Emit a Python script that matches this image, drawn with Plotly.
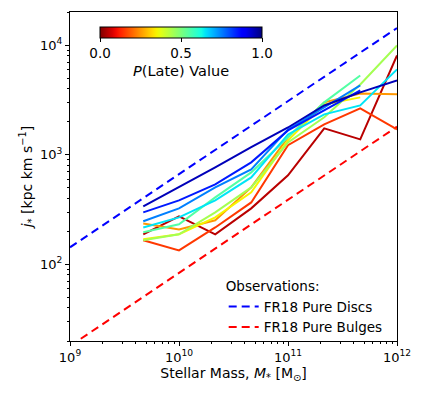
import numpy as np
import plotly.graph_objects as go

# stellar mass bins (Msun)
mass = [4.7e9, 1.0e10, 2.15e10, 4.6e10, 1.0e11, 2.15e11, 4.6e11, 1.0e12]

# median j* per P(Late) bin (None = no galaxies in bin)
p_late = [0.05, 0.15, 0.25, 0.35, 0.45, 0.55, 0.65, 0.75, 0.85, 0.95]
j_p05 = [188, 274, 188, 324, 648, 1740, 1380, 8040]
j_p15 = [166, 134, 217, 367, 1220, 1890, 2640, 1700]
j_p25 = [236, 208, 252, 503, 1440, 3000, 3620, 3550]
j_p35 = [169, 188, 268, 453, 1350, 2870, 3330, None]
j_p45 = [166, 188, 298, 503, 1290, 2190, 4370, 9900]
j_p55 = [196, 232, 408, 690, 1440, 3000, 5280, None]
j_p65 = [217, 268, 383, 621, 1530, 2330, 2810, 6000]
j_p75 = [247, 324, 503, 735, 1700, 2700, 4280, None]
j_p85 = [298, 383, 536, 851, 1665, 2530, 3860, None]
j_p95 = [338, 503, 766, 1170, 1770, 2810, 3700, 4760]
j_all = [j_p05, j_p15, j_p25, j_p35, j_p45, j_p55, j_p65, j_p75, j_p85, j_p95]

# Fall & Romanowsky 2018 relations
fr_mass = [1e9, 1e12]
fr_discs = [143, 14300]
fr_bulges = [18, 1800]


def jet(v):
    # matplotlib 'jet'
    r = np.interp(v, [0, 0.35, 0.66, 0.89, 1], [0, 0, 1, 1, 0.5])
    g = np.interp(v, [0, 0.125, 0.375, 0.64, 0.91, 1], [0, 0, 1, 1, 0, 0])
    b = np.interp(v, [0, 0.11, 0.34, 0.65, 1], [0.5, 1, 1, 0, 0])
    return 'rgb(%d,%d,%d)' % (r * 255, g * 255, b * 255)


def jet_r(v):
    return jet(1 - v)


fig = go.Figure()

fig.add_scatter(x=fr_mass, y=fr_discs, mode='lines', name='FR18 Pure Discs',
                line=dict(color='#0000ff', width=2, dash='8px,5px'))
fig.add_scatter(x=fr_mass, y=fr_bulges, mode='lines', name='FR18 Pure Bulges',
                line=dict(color='#ff0000', width=2, dash='8px,5px'))

for p, j in zip(p_late, j_all):
    fig.add_scatter(x=mass, y=j, mode='lines', showlegend=False,
                    line=dict(color=jet_r(p), width=2))

# dummy trace for the colorbar
scale = [[v, jet_r(v)] for v in np.linspace(0, 1, 41)]
fig.add_scatter(x=[1e9], y=[100], mode='markers', showlegend=False,
                marker=dict(size=0.1, color=[0.5], cmin=0, cmax=1,
                            colorscale=scale, opacity=0,
                            colorbar=dict(orientation='h', x=0.092, xanchor='left',
                                          y=0.955, yanchor='top', xpad=0, ypad=0,
                                          len=162, lenmode='pixels', thickness=11,
                                          outlinecolor='black', outlinewidth=1,
                                          tickvals=[0, 0.5, 1], ticktext=['0.0', '0.5', '1.0'],
                                          ticks='outside', ticklen=4, tickcolor='black',
                                          tickfont=dict(size=13.5, color='black'),
                                          title=dict(text='<i>P</i>(Late) Value', side='bottom',
                                                     font=dict(size=14.5, color='black')))))

x_minor = [m * 10 ** e for e in range(9, 12) for m in range(2, 10)]
y_minor = [m * 10 ** e for e in range(1, 5) for m in range(2, 10)]

axis_style = dict(type='log', showgrid=False, zeroline=False, showline=True,
                  linecolor='black', linewidth=1, mirror=True, ticks='outside',
                  ticklen=4, tickcolor='black', tickfont=dict(size=13, color='black'),
                  automargin=False)

fig.update_xaxes(**axis_style, range=[9, 12],
                 tickvals=[1e9, 1e10, 1e11, 1e12],
                 ticktext=['10<sup>9</sup>', '10<sup>10</sup>', '10<sup>11</sup>', '10<sup>12</sup>'],
                 minor=dict(tickmode='array', tickvals=x_minor, ticks='outside', ticklen=2, tickcolor='black'),
                 title=dict(text='Stellar Mass, <i>M</i><sub>*</sub> [M<sub>⊙</sub>]',
                            font=dict(size=14, color='black'), standoff=1))
fig.update_yaxes(**axis_style, range=[np.log10(20), np.log10(20000)],
                 tickvals=[1e2, 1e3, 1e4],
                 ticktext=['10<sup>2</sup>', '10<sup>3</sup>', '10<sup>4</sup>'],
                 minor=dict(tickmode='array', tickvals=y_minor, ticks='outside', ticklen=2, tickcolor='black'),
                 title=dict(text='<i>j</i><sub>*</sub> [kpc km s<sup>−1</sup>]',
                            font=dict(size=14, color='black'), standoff=4))

# page body adds an 8 px offset, so margins are shifted to compensate
fig.update_layout(width=436, height=397, template='plotly_white',
                  plot_bgcolor='white', paper_bgcolor='white',
                  font=dict(family='DejaVu Sans', color='black'),
                  margin=dict(l=62, r=47, t=4, b=64, autoexpand=False),
                  legend=dict(x=0.47, y=0.205, xanchor='left', yanchor='top',
                              bgcolor='rgba(0,0,0,0)', font=dict(size=13.5),
                              title=dict(text='Observations:', font=dict(size=13.5)),
                              itemwidth=30, tracegroupgap=0))

fig.write_html("out.html")
